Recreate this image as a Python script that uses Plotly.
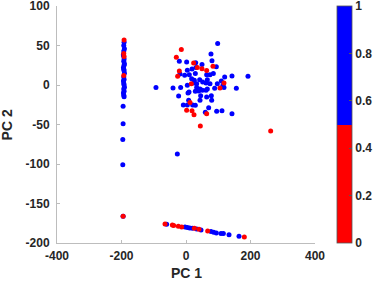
import plotly.graph_objects as go

# Blue points (class 1)
blue_x = [98.2, 77.5, 80.6, -20.7, 2.0, 30.0, 49.6, 94.0, 4.1, 18.6, 31.0, -18.6, -4.2, 10.3, 28.9,
          64.1, 74.4, 84.7, 119.9, 142.6, 192.2, 17.5, 25.8, 42.4, 66.1, 24.8, 33.1, 51.7, 62.0, 74.4,
          97.1, 109.5, 114.7, 117.8, -93.1, -40.3, -16.6, 4.1, 33.1, 43.4, 66.1, 88.9, 156.1, 28.9, 39.2,
          50.6, 62.0, 6.2, 9.3, -22.8, 45.4, 64.1, 78.5, 8.2, 43.4, 79.6, -8.3, 4.1, 20.6, 28.9,
          70.3, 59.9, 95.1, 111.6, 142.6, -26.9,
          # vertical column
          -192, -193, -191, -194, -192, -193, -191, -192, -194, -193, -192, -191, -193, -192, -194,
          -193, -192, -191, -193, -192, -194, -193, -192, -193, -194, -195, -195, -196, -196, -195,
          # bottom diagonal
          -60.0, -3.1, 4.2, 11.4, 19.7, 33.1, 46.5, 77.5, 85.8, 94.1, 108.6, 115.8, 133.4, 164.4]
blue_y = [52.4, 39.3, 30.8, 30.0, 29.2, 28.3, 25.8, 23.2, 18.6, 20.3, 22.0, 13.9, 12.3, 13.1, 14.4,
          13.1, 13.1, 14.4, 10.2, 11.4, 11.0, 8.0, 5.9, 6.8, 6.8, 2.6, 1.7, 3.8, 2.6, 1.7,
          1.7, 5.1, -0.4, -3.3, -3.3, -3.8, -3.3, -0.4, -3.3, -5.0, -5.0, -4.2, -4.2, -8.0, -7.6,
          -6.7, -6.7, -10.1, -8.8, -13.9, -13.5, -15.2, -13.5, -19.4, -19.4, -19.4, -25.3, -25.3, -25.3, -25.7,
          -28.7, -34.6, -33.3, -32.5, -36.3, -87.3,
          54, 50, 46, 39, 33, 30, 27, 25, 22, 20, 18, 15, 10, 7, 5,
          2, 0, -3, -5, -8, -10, -13, -15, 43, 37, -27, -49, -69, -101, -166,
          -176.3, -179.7, -180.5, -181.0, -181.4, -182.2, -183.5, -185.6, -186.4, -187.3, -188.1, -188.1, -189.4, -191.5]

# Red points (class 0)
red_x = [-14.5, -30.0, 23.7, 35.1, 49.6, 64.1, 83.7, -20.7, -25.9, 16.5, 117.8, 105.4, 12.4, 2.0, 18.6,
         24.8, 64.1, 44.4, 262.5,
         -192, -193, -192, -193, -195,
         -65.1, -42.3, -38.2, -23.8, -13.4, 25.9, 40.3, 67.2, 180.9]
red_y = [44.8, 35.1, 27.9, 22.0, 20.7, 18.2, 23.7, 17.7, 11.0, 1.7, 2.6, -3.8, -22.3, -32.0, -32.5,
         -37.5, -36.3, -51.9, -58.2,
         57, 40, 36, 12, -166,
         -175.9, -177.1, -178.0, -178.8, -179.7, -181.4, -182.6, -184.7, -192.3]

x_ticks = [-400, -200, 0, 200, 400]
y_ticks = [-200, -150, -100, -50, 0, 50, 100]
cb_ticks = [0, 0.2, 0.4, 0.6, 0.8, 1]

xs = blue_x + red_x
ys = blue_y + red_y
cs = [1] * len(blue_x) + [0] * len(red_x)

font_family = "Liberation Sans, Arial, sans-serif"
axis_color = "#bdbdbd"
text_color = "#262626"

fig = go.Figure()
fig.add_trace(go.Scatter(
    x=xs, y=ys, mode="markers",
    marker=dict(
        size=5, color=cs, cmin=0, cmax=1,
        colorscale=[[0, "#ff0000"], [0.5, "#ff0000"], [0.5, "#0000ff"], [1, "#0000ff"]],
        line=dict(width=0),
        colorbar=dict(
            x=1.085, xanchor="left", xref="paper",
            y=0, yanchor="bottom", len=1, lenmode="fraction",
            thickness=15, thicknessmode="pixels",
            outlinecolor="#555555", outlinewidth=0.8,
            tickvals=cb_ticks, ticktext=[f"{t:g}" for t in cb_ticks],
            ticks="inside", ticklen=3, tickcolor="#555555",
            tickfont=dict(size=12, family=font_family, color=text_color, weight="bold"),
            ticklabeloverflow="allow",
            xpad=0, ypad=0,
        ),
    ),
    showlegend=False,
))

fig.update_layout(
    width=374, height=281,
    margin=dict(l=57, r=59, t=6, b=38, autoexpand=False),
    plot_bgcolor="white", paper_bgcolor="white",
    font=dict(family=font_family, size=12, color=text_color, weight="bold"),
    xaxis=dict(
        range=[-400, 400], tickvals=x_ticks, ticktext=[str(v) for v in x_ticks],
        showgrid=False, zeroline=False, showline=True, linecolor=axis_color, linewidth=1,
        ticks="inside", ticklen=3, tickcolor=axis_color, automargin=False,
        ticklabeloverflow="allow", ticklabelstandoff=2,
        tickfont=dict(size=12, weight="bold"),
    ),
    yaxis=dict(
        range=[-200, 100], tickvals=y_ticks, ticktext=[str(v) for v in y_ticks],
        showgrid=False, zeroline=False, showline=True, linecolor=axis_color, linewidth=1,
        ticks="inside", ticklen=3, tickcolor=axis_color, automargin=False,
        ticklabeloverflow="allow", ticklabelstandoff=4,
        tickfont=dict(size=12, weight="bold"),
    ),
    annotations=[
        dict(text="PC 1", xref="paper", yref="paper", x=0.5, y=-0.1266,
             xanchor="center", yanchor="middle", showarrow=False,
             font=dict(size=14, weight="bold", color=text_color)),
        dict(text="PC 2", xref="paper", yref="paper", x=-0.194, y=0.5,
             xanchor="center", yanchor="middle", showarrow=False, textangle=-90,
             font=dict(size=14, weight="bold", color=text_color)),
    ],
)

fig.write_html("out.html", post_script="document.body.style.margin='0';",
               config={"displayModeBar": False})
